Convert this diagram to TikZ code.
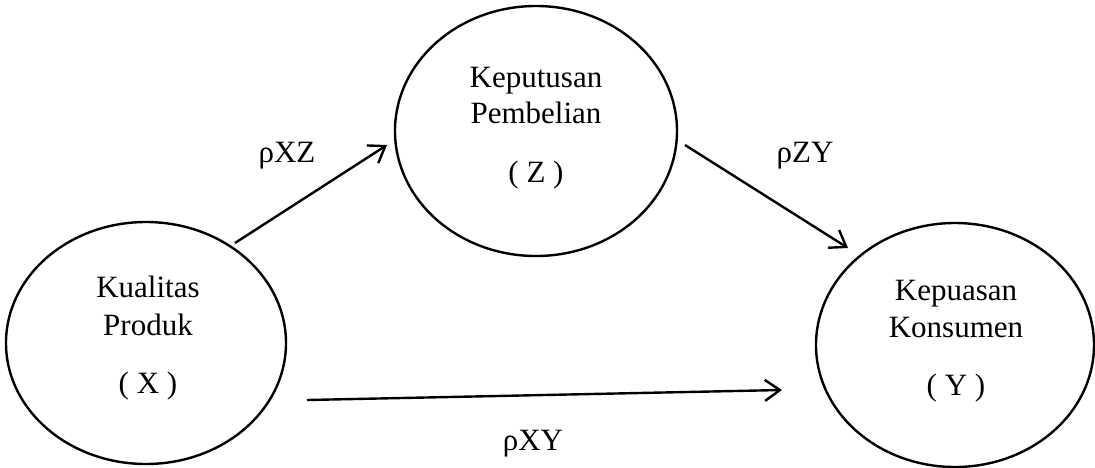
\documentclass[tikz,border=0pt]{standalone}
\usepackage{fontspec}
\setmainfont{Liberation Serif}
\usetikzlibrary{arrows.meta,shapes.geometric}
\begin{document}
\begin{tikzpicture}[x=1pt,y=-1pt,
  ell/.style={draw, ellipse, line width=2.4pt, inner sep=0pt, outer sep=0pt},
  txt/.style={anchor=base, inner sep=0pt, font=\fontsize{31}{37}\selectfont},
  arr/.style={-{Straight Barb[length=15pt,width=21pt]}, line width=2.4pt}]
\useasboundingbox (0,0) rectangle (1095,467);
% ellipses
\node[ell, minimum width=280pt, minimum height=242pt] (X) at (146,343) {};
\node[ell, minimum width=282pt, minimum height=250pt] (Z) at (536,131) {};
\node[ell, minimum width=278pt, minimum height=244pt] (Y) at (955,345) {};
% texts
\node[txt] (Xa) at (148,297) {Kualitas};
\node[txt] (Xb) at (148,335) {Produk};
\node[txt] (Xc) at (148,393) {( X )};
\node[txt] (Za) at (536,87) {Keputusan};
\node[txt] (Zb) at (536,123) {Pembelian};
\node[txt] (Zc) at (536,182) {( Z )};
\node[txt] (Ya) at (956,300) {Kepuasan};
\node[txt] (Yb) at (956,337) {Konsumen};
\node[txt] (Yc) at (956,395) {( Y )};
% labels
\node[txt] (lxz) at (287,162) {ρXZ};
\node[txt] (lzy) at (805,162) {ρZY};
\node[txt] (lxy) at (533,450) {ρXY};
% connector ends
\coordinate (xzS) at (235,243);
\coordinate (xzE) at (387,145);
\coordinate (zyS) at (685,145);
\coordinate (zyE) at (848,248);
\coordinate (xyS) at (307,400);
\coordinate (xyE) at (782,390);
\draw[arr] (xzS) -- (xzE);
\draw[arr] (zyS) -- (zyE);
\draw[arr] (xyS) -- (xyE);
\end{tikzpicture}
\end{document}
